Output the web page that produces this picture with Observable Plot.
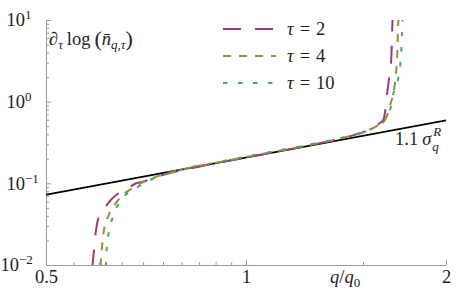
<!DOCTYPE html>
<html><head><meta charset="utf-8">
<script src="https://cdn.jsdelivr.net/npm/d3@7"></script>
<script src="https://cdn.jsdelivr.net/npm/@observablehq/plot@0.6"></script>
<style>
html,body{margin:0;padding:0;background:#fff;}
svg{display:block;}
</style>
</head><body><div id="chart"></div>
<script>
// ---- tick values / labels ----
const xMajor = [0.5, 1, 2];
const xTickLabels = ["0.5", "1", "2"];
const xMinor = [0.55, 0.6, 0.65, 0.7, 0.75, 0.8, 0.85, 0.9, 0.95, 1.5];
const yMajor = [0.01, 0.1, 1, 10];
const yExp = ["−2", "−1", "0", "1"];
const yMinor = [0.02, 0.03, 0.04, 0.05, 0.06, 0.07, 0.08, 0.09,
                0.2, 0.3, 0.4, 0.5, 0.6, 0.7, 0.8, 0.9,
                2, 3, 4, 5, 6, 7, 8, 9];

// ---- reference line 1.1 sigma_q^R ----
const refQ = [0.5, 2];
const refV = [0.074, 0.60];

// ---- tau = 2 ----
const q2 = [0.586, 0.589, 0.593, 0.599, 0.61, 0.62, 0.635, 0.646, 0.665, 0.681, 0.70, 0.74, 0.80, 0.90, 1.0, 1.1, 1.2, 1.3, 1.385, 1.45, 1.52, 1.57, 1.59, 1.608, 1.619, 1.630, 1.641, 1.652, 1.658, 1.661];
const v2 = [0.0095, 0.0144, 0.0254, 0.0387, 0.049, 0.059, 0.0719, 0.0783, 0.090, 0.101, 0.107, 0.125, 0.147, 0.179, 0.211, 0.244, 0.279, 0.318, 0.357, 0.395, 0.45, 0.52, 0.56, 0.613, 0.836, 1.39, 2.12, 3.52, 9.18, 12];

// ---- tau = 4 ----
const q4 = [0.603, 0.606, 0.610, 0.620, 0.635, 0.646, 0.657, 0.668, 0.688, 0.71, 0.745, 0.80, 0.90, 1.0, 1.1, 1.2, 1.3, 1.385, 1.45, 1.52, 1.57, 1.608, 1.625, 1.636, 1.650, 1.664, 1.676, 1.687, 1.690, 1.694];
const v4 = [0.0097, 0.0166, 0.0268, 0.041, 0.0574, 0.068, 0.078, 0.085, 0.099, 0.111, 0.128, 0.150, 0.181, 0.213, 0.247, 0.282, 0.321, 0.360, 0.395, 0.445, 0.51, 0.59, 0.66, 0.79, 1.0, 1.28, 2.0, 4.3, 7.5, 11];

// ---- tau = 10 ----
const q10 = [0.614, 0.616, 0.620, 0.629, 0.642, 0.664, 0.693, 0.729, 0.77, 0.82, 0.90, 1.0, 1.1, 1.2, 1.3, 1.385, 1.45, 1.52, 1.57, 1.61, 1.63, 1.647, 1.664, 1.680, 1.693, 1.705, 1.711, 1.714, 1.718];
const v10 = [0.0097, 0.0162, 0.0247, 0.0387, 0.0574, 0.0783, 0.0955, 0.1195, 0.137, 0.158, 0.183, 0.216, 0.25, 0.285, 0.325, 0.363, 0.40, 0.45, 0.51, 0.58, 0.68, 0.836, 1.28, 1.6, 2.0, 3.06, 4.67, 7.13, 11];

const seriesNames = ["2", "4", "10"];
const seriesColors = ["#9b3a7b", "#9a8c3c", "#46a866"];
const seriesDash = ["18,14", "8,8", "4.5,10.5"];
const seriesQ = [q2, q4, q10];
const seriesV = [v2, v4, v10];

const refData = refQ.map((q, i) => ({q, v: refV[i]}));
const curveData = seriesQ.map((qs, s) => qs.map((q, i) => ({q, v: seriesV[s][i]})));

const W = 468, H = 299, mL = 46, mR = 22, mT = 20, mB = 34;
const fw = W - mL - mR, fh = H - mT - mB;
const axisColor = "#9a9a9a";
const FONT = "'Liberation Serif', 'DejaVu Serif', serif";
const FS = 18.5, SS = 13;

const plot = Plot.plot({
  width: W, height: H,
  marginLeft: mL, marginRight: mR, marginTop: mT, marginBottom: mB,
  x: {type: "log", domain: [0.5, 2]},
  y: {type: "log", domain: [0.01, 10]},
  style: {fontFamily: FONT, fontSize: FS + "px", color: "#222", background: "white", overflow: "visible"},
  marks: [
    Plot.ruleY([0.01], {stroke: axisColor, strokeWidth: 1}),
    Plot.ruleX([0.5], {stroke: axisColor, strokeWidth: 1}),
    Plot.tickX(xMajor, {x: d => d, insetTop: fh - 5, stroke: axisColor}),
    Plot.tickX(xMinor, {x: d => d, insetTop: fh - 3, stroke: axisColor}),
    Plot.tickY(yMajor, {y: d => d, insetRight: fw - 5, stroke: axisColor}),
    Plot.tickY(yMinor, {y: d => d, insetRight: fw - 3, stroke: axisColor}),
    Plot.axisX({ticks: xMajor, tickSize: 0, tickPadding: 4, label: null,
      tickFormat: d => xTickLabels[xMajor.indexOf(d)]}),
    Plot.axisY({ticks: yMajor, tickSize: 0, tickPadding: 3, label: null, textAnchor: "start", dx: -37,
      tickFormat: d => yExp[yMajor.indexOf(d)]}),
    Plot.line(refData, {x: "q", y: "v", stroke: "black", strokeWidth: 1.8, clip: true}),
    ...curveData.map((d, s) => Plot.line(d, {x: "q", y: "v", stroke: seriesColors[s], strokeWidth: 2,
      strokeDasharray: seriesDash[s], strokeLinecap: "butt", clip: true, curve: "monotone-x"}))
  ]
});

document.getElementById("chart").appendChild(plot);
const svg = d3.select(plot);

// superscript exponents for y tick labels
svg.selectAll('g[aria-label="y-axis tick label"] text').each(function() {
  const t = d3.select(this);
  const e = t.text();
  t.text(null);
  t.append("tspan").attr("dx", e === "−2" ? -6 : 0).text("10");
  t.append("tspan").attr("font-size", SS).attr("dy", -7).text(e);
});

function label(x, y) {
  return svg.append("text").attr("x", x).attr("y", y).attr("text-anchor", "start")
    .attr("font-family", FONT).attr("font-size", FS).attr("fill", "#222");
}

// y quantity label
const yl = label(mL + 3, mT + 25);
yl.append("tspan").attr("font-style", "italic").text("∂");
yl.append("tspan").attr("font-style", "italic").attr("font-size", SS).attr("dy", 4).text("τ");
yl.append("tspan").attr("dy", -4).attr("dx", 4).text("log");
yl.append("tspan").attr("dx", 4).attr("font-size", 22).attr("dy", 1).text("(");
yl.append("tspan").attr("font-style", "italic").attr("dy", -1).text("n̄");
yl.append("tspan").attr("font-style", "italic").attr("font-size", SS).attr("dy", 4).text("q,τ");
yl.append("tspan").attr("font-size", 22).attr("dy", -3).text(")");

// x quantity label
const xl = label(330, 283);
xl.append("tspan").attr("font-style", "italic").text("q");
xl.append("tspan").text("/");
xl.append("tspan").attr("font-style", "italic").text("q");
xl.append("tspan").attr("font-size", SS).attr("dy", 4).text("0");

// reference line label
const rl = label(395, 145);
rl.append("tspan").text("1.1");
rl.append("tspan").attr("font-style", "italic").attr("dx", 4).text("σ");
rl.append("tspan").attr("font-style", "italic").attr("font-size", SS).attr("dx", 2).attr("dy", -9).text("R");
rl.append("tspan").attr("font-style", "italic").attr("font-size", SS).attr("dx", -9).attr("dy", 15).text("q");

// legend
seriesNames.forEach((n, i) => {
  const y = 29 + i * 27;
  svg.append("line").attr("x1", 223).attr("x2", 276).attr("y1", y).attr("y2", y)
    .attr("stroke", seriesColors[i]).attr("stroke-width", 2).attr("stroke-dasharray", seriesDash[i]);
  const t = label(287, y + 6);
  t.append("tspan").attr("font-style", "italic").text("τ");
  t.append("tspan").attr("dx", 6).text("=");
  t.append("tspan").attr("dx", 6).text(n);
});
</script>
</body></html>
